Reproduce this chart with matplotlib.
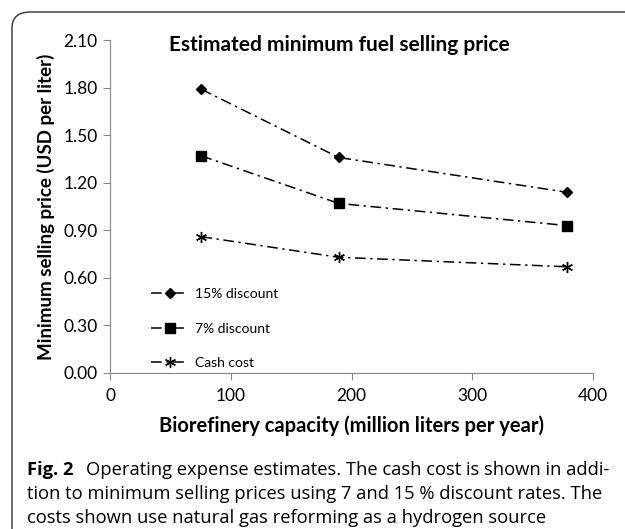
import matplotlib.pyplot as plt
from matplotlib.patches import FancyBboxPatch

# data
capacity = [75.7, 189.3, 378.5]
disc15 = [1.79, 1.36, 1.14]
disc7 = [1.37, 1.07, 0.93]
cash = [0.86, 0.73, 0.67]
yticks = [0.0, 0.3, 0.6, 0.9, 1.2, 1.5, 1.8, 2.1]
xticks = [0, 100, 200, 300, 400]

plt.rcParams['font.family'] = ['Lato', 'DejaVu Sans']

fig = plt.figure(figsize=(6.25, 5.29), dpi=100)
ax = fig.add_axes([0.176, 0.295, 0.773, 0.629])

ls = (0, (7, 3, 1.5, 3))
ax.plot(capacity, disc15, color='black', lw=1.1, ls=ls, marker='D', ms=5, label='15% discount')
ax.plot(capacity, disc7, color='black', lw=1.1, ls=ls, marker='s', ms=7, label='7% discount')
ax.plot(capacity, cash, color='black', lw=1.1, ls=ls, marker=(6, 2, 0), ms=8, mew=1, label='Cash cost')

ax.set_xlim(0, 400)
ax.set_ylim(0, 2.1)
ax.set_xticks(xticks)
ax.set_yticks(yticks)
ax.set_yticklabels([f'{v:.2f}' for v in yticks])
ax.tick_params(labelsize=12.5, color='#888888', length=5, width=0.8, pad=4)
ax.tick_params(axis='x', pad=6)
for s in ['top', 'right']:
    ax.spines[s].set_visible(False)
for s in ['left', 'bottom']:
    ax.spines[s].set_color('#888888')
    ax.spines[s].set_linewidth(0.8)

# title sits inside the plot area, level with the top tick
ax.text(0.475, 0.985, 'Estimated minimum fuel selling price', transform=ax.transAxes,
        ha='center', va='center', fontsize=15, fontweight='bold')
ax.set_xlabel('Biorefinery capacity (million liters per year)', fontsize=14.5, fontweight='bold', labelpad=8)
ax.set_ylabel('Minimum selling price (USD per liter)', fontsize=13.5, fontweight='bold', labelpad=6)

ax.legend(loc='lower left', bbox_to_anchor=(0.06, -0.025), frameon=False, fontsize=10,
          labelspacing=1.6, handlelength=2.6, handletextpad=0.5)

# rounded border around the figure, open at right and bottom
box = FancyBboxPatch((12 / 625, -0.1), 1.2, 1.1 - 12 / 529,
                     boxstyle='round,pad=0,rounding_size=0.03',
                     transform=fig.transFigure, fill=False, ec='#333333', lw=1)
fig.patches.append(box)

# caption
cap = dict(fontsize=13.2, va='center', family=['Open Sans', 'DejaVu Sans'])
fig.text(27 / 625, 1 - 470 / 529, 'Fig. 2', fontweight='bold', **cap)
fig.text(86 / 625, 1 - 470 / 529, 'Operating expense estimates. The cash cost is shown in addi-', **cap)
fig.text(27 / 625, 1 - 494 / 529, 'tion to minimum selling prices using 7 and 15 % discount rates. The', **cap)
fig.text(27 / 625, 1 - 518 / 529, 'costs shown use natural gas reforming as a hydrogen source', **cap)

fig.savefig('out.png', dpi=100)
